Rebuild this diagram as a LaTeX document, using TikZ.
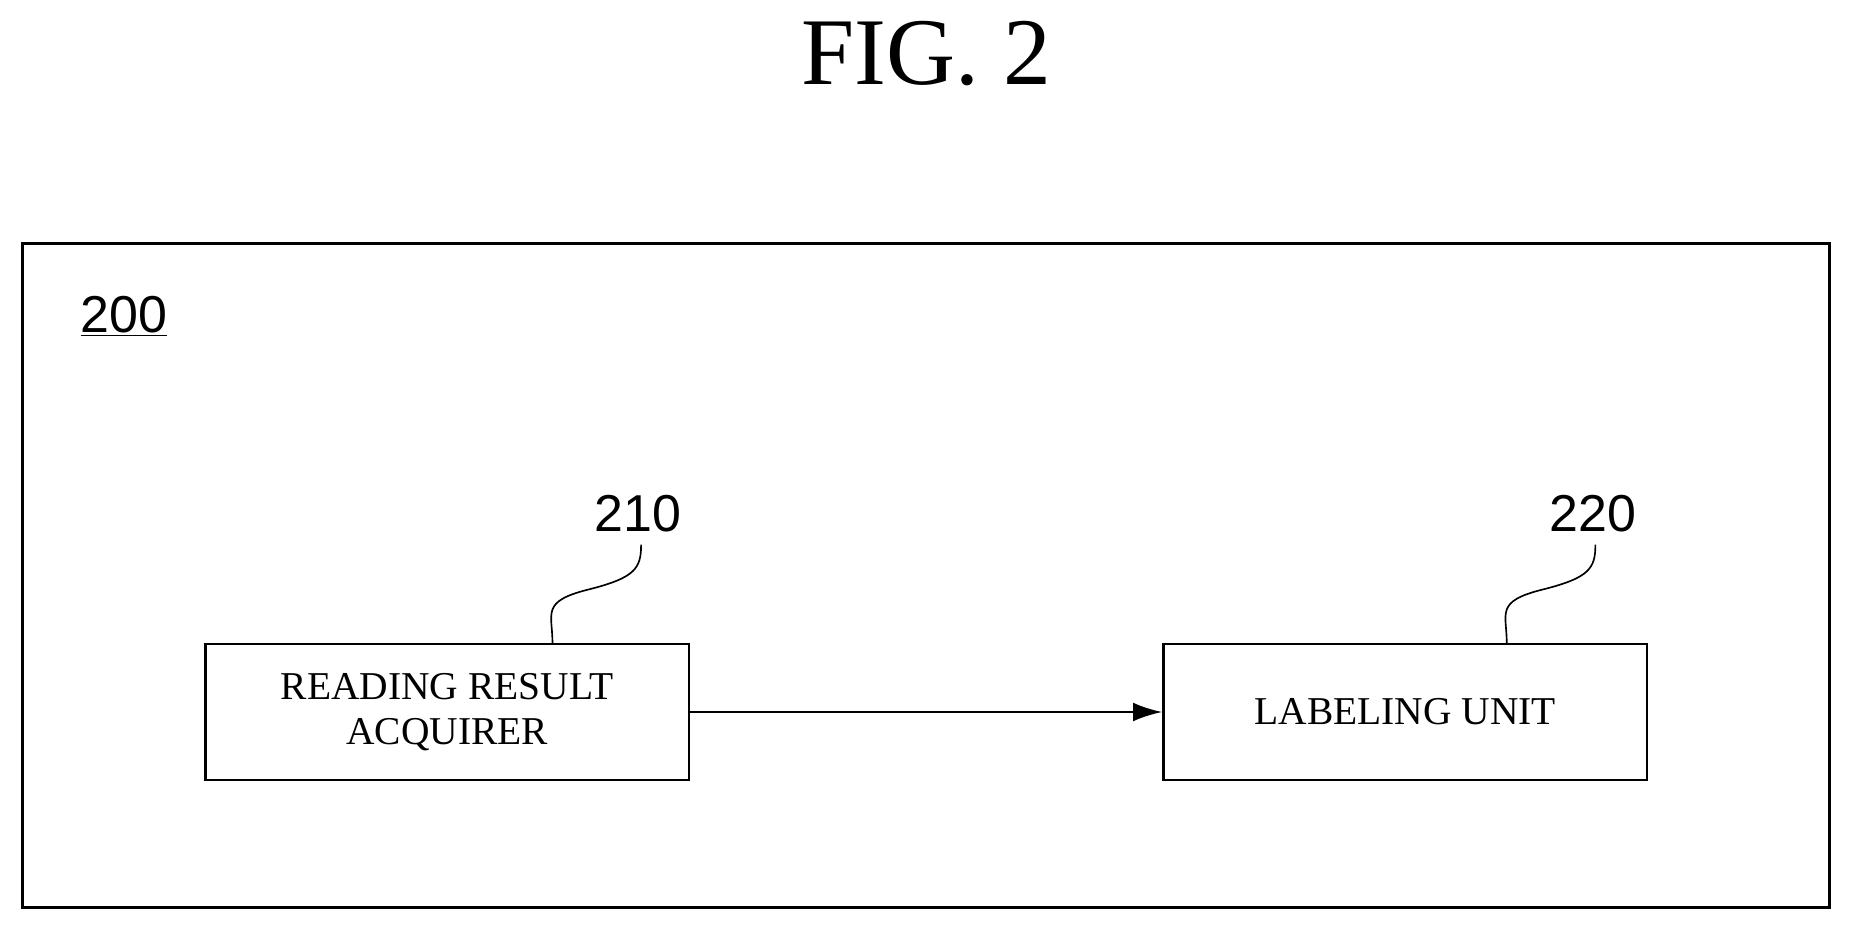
\documentclass[tikz,border=0pt]{standalone}
\usepackage{fontspec}
\setmainfont{Liberation Serif}
\setsansfont{Liberation Sans}
\usetikzlibrary{positioning,arrows.meta}

\begin{document}
\begin{tikzpicture}[x=0.02cm,y=-0.02cm]
\tikzstyle{unit}=[draw,line width=1.2pt,minimum width=8.18cm,minimum height=2.3cm,align=center,font=\fontsize{19}{22}\selectfont,inner sep=0pt]
\tikzstyle{refnum}=[font=\sffamily\fontsize{25}{28}\selectfont,inner sep=1pt]
\useasboundingbox (0,0) rectangle (1568,786);
\node [font=\fontsize{46}{50}\selectfont] (title) at (784,45) {FIG. 2};
\draw [line width=1.2pt] (19,206) rectangle (1548,768);
\node [refnum] (sys) at (105,268) {\underline{200}};
\node [unit] (acq) at (378.5,602.5) {READING RESULT\\ACQUIRER};
\node [unit] (lab) at (1189,602.5) {LABELING UNIT};
\node [refnum] (n210) at (540,435) {210};
\node [refnum] (n220) at (1348,435) {220};
\draw [line width=1.2pt,-{Latex[length=14pt,width=9pt]}] (acq) -- (lab);
\draw [line width=0.8pt] (acq.north)++(89,0) .. controls +(0,-25) and +(-40,10) .. +(30,-45)
    .. controls +(40,-10) and +(0,20) .. +(75,-83);
\draw [line width=0.8pt] (lab.north)++(86,0) .. controls +(0,-25) and +(-40,10) .. +(30,-45)
    .. controls +(40,-10) and +(0,20) .. +(75,-83);
\end{tikzpicture}
\end{document}
